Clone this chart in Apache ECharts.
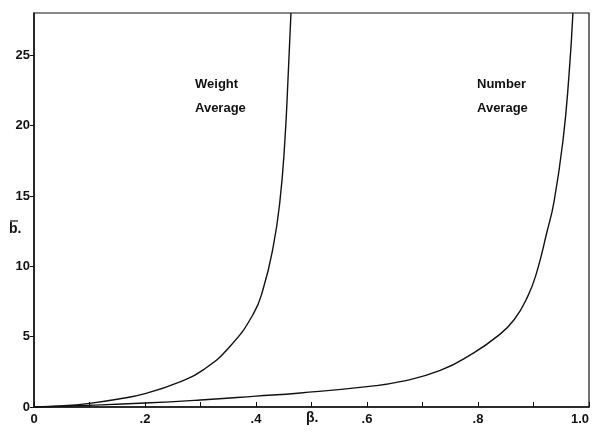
<!DOCTYPE html>
<html><head><meta charset="utf-8">
<script src="https://cdn.jsdelivr.net/npm/echarts@6/dist/echarts.min.js"></script>
<style>html,body{margin:0;padding:0;background:#fff}#c{width:596px;height:432px}</style>
</head><body><div id="c"></div>
<script>
// Data
const weightBeta = [0, 0.05, 0.10, 0.15, 0.20, 0.263, 0.305, 0.353, 0.395, 0.413, 0.431, 0.443, 0.452, 0.458, 0.463];
const weightB    = [0, 0.08, 0.26, 0.55, 0.95, 1.79, 2.64, 4.3, 6.6, 8.4, 11.4, 14.6, 18.9, 23.6, 28.0];
const numberBeta = [0, 0.10, 0.20, 0.30, 0.40, 0.48, 0.60, 0.66, 0.732, 0.79, 0.834, 0.865, 0.89, 0.906, 0.924, 0.937, 0.953, 0.964, 0.971];
const numberB    = [0, 0.12, 0.28, 0.50, 0.77, 1.0, 1.45, 1.8, 2.6, 3.8, 5.0, 6.2, 7.9, 9.6, 12.4, 14.6, 18.9, 23.6, 28.0];
const xTickLabels = {0: '0', 0.2: '.2', 0.4: '.4', 0.6: '.6', 0.8: '.8', 1: '1.0'};
const seriesNames = ['Weight\nAverage', 'Number\nAverage'];

const font = '"Liberation Sans", Arial, sans-serif';
const chart = echarts.init(document.getElementById('c'), null, {renderer: 'canvas'});
const zip = (a, b) => a.map((v, i) => [v, b[i]]);
chart.setOption({
  animation: false,
  backgroundColor: '#fff',
  grid: {left: 34, right: 7, top: 13, bottom: 25, show: true, borderColor: '#111', borderWidth: 1.2,
         containLabel: false, outerBoundsMode: 'none'},
  xAxis: {
    type: 'value', min: 0, max: 1, interval: 0.1,
    axisLine: {lineStyle: {color: '#111', width: 1.5}},
    axisTick: {inside: true, length: 5, lineStyle: {color: '#111'}},
    splitLine: {show: false},
    axisLabel: {
      color: '#111', fontFamily: font, fontSize: 13, fontWeight: 'bold', margin: 6, alignMaxLabel: 'right',
      formatter: v => { const k = Math.round(v * 10) / 10; return xTickLabels[k] !== undefined ? xTickLabels[k] : ''; }
    }
  },
  yAxis: {
    type: 'value', min: 0, max: 28, interval: 5,
    axisLine: {show: true, lineStyle: {color: '#111', width: 1.5}},
    axisTick: {show: true, inside: false, length: 4, lineStyle: {color: '#111'}},
    splitLine: {show: false},
    axisLabel: {color: '#111', fontFamily: font, fontSize: 13, fontWeight: 'bold', margin: 4, showMaxLabel: false}
  },
  series: [
    {type: 'line', name: 'Weight Average', data: zip(weightBeta, weightB), smooth: 0.5, showSymbol: false,
     lineStyle: {color: '#111', width: 1.4}},
    {type: 'line', name: 'Number Average', data: zip(numberBeta, numberB), smooth: 0.5, showSymbol: false,
     lineStyle: {color: '#111', width: 1.4}}
  ],
  graphic: [
    {type: 'text', left: 195, top: 72, style: {text: seriesNames[0], font: 'bold 13px ' + font, fill: '#111', lineHeight: 24}},
    {type: 'text', left: 477, top: 72, style: {text: seriesNames[1], font: 'bold 13px ' + font, fill: '#111', lineHeight: 24}},
    {type: 'text', left: 9, top: 222, style: {text: 'b.', font: 'bold 14px ' + font, fill: '#111'}},
    {type: 'line', shape: {x1: 10, y1: 221, x2: 18, y2: 221}, style: {stroke: '#111', lineWidth: 1.2}},
    {type: 'text', left: 306, top: 411, style: {text: 'β.', font: 'bold 14px ' + font, fill: '#111'}}
  ]
});
</script></body></html>
